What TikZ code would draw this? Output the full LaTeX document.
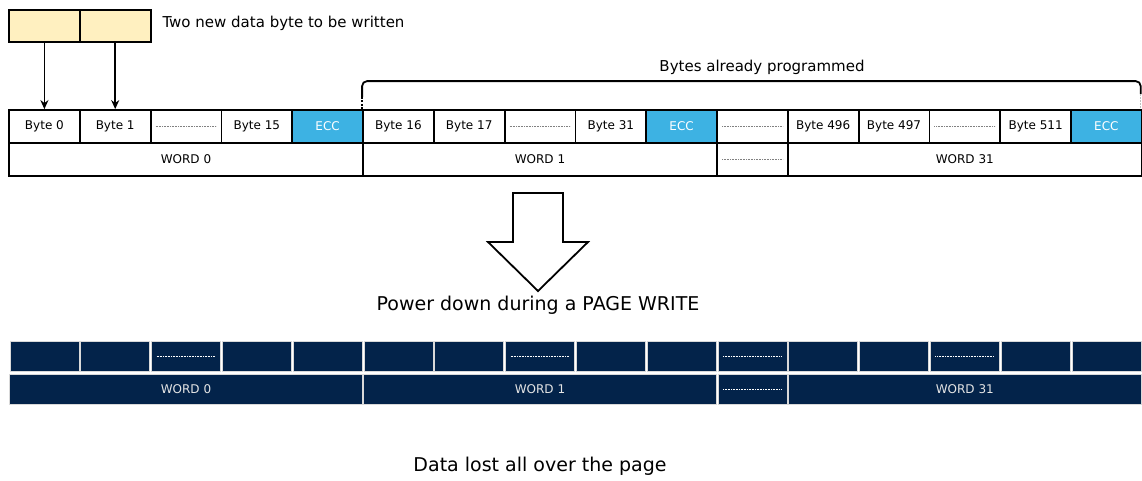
\documentclass[tikz,border=0pt]{standalone}
\usepackage{fontspec}
\setmainfont{DejaVu Sans}
\usetikzlibrary{arrows.meta}

\definecolor{newbyte}{HTML}{FFF0C0}
\definecolor{ecc}{HTML}{3DB2E3}
\definecolor{lost}{HTML}{03234A}

\begin{document}
\begin{tikzpicture}[x=1pt,y=-1pt,
  cell/.style={draw,line width=1.8pt,minimum width=70.8pt,minimum height=33pt,inner sep=0pt,font=\fontsize{12}{14}\selectfont},
  ecccell/.style={cell,fill=ecc,text=white},
  gapcell/.style={cell,path picture={\draw[gray,line width=0.6pt,dash pattern=on 0.8pt off 0.8pt] ([xshift=5pt]path picture bounding box.west) -- ([xshift=-5pt]path picture bounding box.east);}},
  lostcell/.style={fill=lost,draw=gray!30,line width=0.8pt,minimum width=69pt,minimum height=30pt,inner sep=0pt,text=gray!20,font=\fontsize{12}{14}\selectfont},
  lostgap/.style={lostcell,path picture={\draw[white,line width=0.6pt,dash pattern=on 0.8pt off 0.8pt] ([xshift=5pt]path picture bounding box.west) -- ([xshift=-5pt]path picture bounding box.east);}},
  bigtext/.style={font=\fontsize{19}{22}\selectfont},
  midtext/.style={font=\fontsize{15}{18}\selectfont}]
\useasboundingbox (0,0) rectangle (1142,480);

% new data
\node[cell,fill=newbyte,minimum height=32pt] (N0) at (44.4,26) {};
\node[cell,fill=newbyte,minimum height=32pt] (N1) at (115.2,26) {};
\node[midtext,anchor=west] (newlabel) at (159,23) {Two new data byte to be written};

% page before
\foreach \i/\t/\s in {0/Byte 0/cell,1/Byte 1/cell,2//gapcell,3/Byte 15/cell,4/ECC/ecccell,
  5/Byte 16/cell,6/Byte 17/cell,7//gapcell,8/Byte 31/cell,9/ECC/ecccell,
  10//gapcell,11/Byte 496/cell,12/Byte 497/cell,13//gapcell,14/Byte 511/cell,15/ECC/ecccell} {
\node[\s] (B\i) at (44.4+70.8*\i,126.5) {\t};
}
\node[cell,minimum width=354pt] (W0) at (186,159.5) {WORD 0};
\node[cell,minimum width=354pt] (W1) at (540,159.5) {WORD 1};
\node[gapcell] (Wd) at (752.4,159.5) {};
\node[cell,minimum width=354pt] (W31) at (964.8,159.5) {WORD 31};

\draw[-{Stealth[length=9pt,width=8pt]},line width=1.6pt] (N0) -- (B0);
\draw[-{Stealth[length=9pt,width=8pt]},line width=1.6pt] (N1) -- (B1);

% bracket
\coordinate (brL) at ([yshift=12pt]B5.north west);
\coordinate (brR) at ([xshift=-2pt,yshift=15pt]B15.north east);
\draw[line width=1.8pt,dash pattern=on 2pt off 1.5pt] (B5.north west) -- (brL);
\draw[line width=1.8pt,rounded corners=5pt] (brL) -- ([yshift=28pt]B5.north west) -- ([xshift=-2pt,yshift=28pt]B15.north east) -- (brR);
\draw[gray!50,line width=1.2pt,dash pattern=on 1.5pt off 1.5pt] (brR) -- ([xshift=-2pt]B15.north east);
\node[midtext] (donelabel) at (762,67) {Bytes already programmed};

% big arrow
\draw[line width=1.8pt,fill=white] (513,193) -- (563,193) -- (563,242) -- (588,242) -- (538,291) -- (488,242) -- (513,242) -- cycle;
\node[bigtext] (power) at (538,305) {Power down during a PAGE WRITE};

% page after
\foreach \i/\s in {0/lostcell,1/lostcell,2/lostgap,3/lostcell,4/lostcell,
  5/lostcell,6/lostcell,7/lostgap,8/lostcell,9/lostcell,
  10/lostgap,11/lostcell,12/lostcell,13/lostgap,14/lostcell,15/lostcell} {
\node[\s] (L\i) at (44.4+70.8*\i,356.5) {};
}
\node[lostcell,minimum width=352.5pt] (LW0) at (186,389) {WORD 0};
\node[lostcell,minimum width=352.5pt] (LW1) at (540,389) {WORD 1};
\node[lostgap] (LWd) at (752.4,389) {};
\node[lostcell,minimum width=352.5pt] (LW31) at (964.8,389) {WORD 31};

\node[bigtext] (lostlabel) at (540,466) {Data lost all over the page};
\end{tikzpicture}
\end{document}
